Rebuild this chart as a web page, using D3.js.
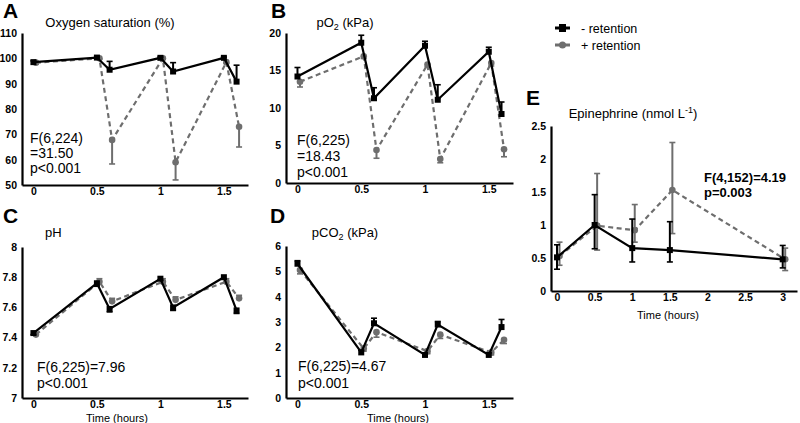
<!DOCTYPE html>
<html><head><meta charset="utf-8">
<script src="https://cdn.jsdelivr.net/npm/d3@7"></script>
<style>
body{margin:0;background:#fff;}
svg{font-family:"Liberation Sans",Arial,sans-serif;}
</style></head>
<body><svg id="chart" width="800" height="423"></svg>
<script>
// ---- data ----
const times = [0, 0.5, 0.6, 1.0, 1.1, 1.5, 1.6];
const xTicks = [0, 0.5, 1, 1.5];

const o2satNo = [98.5, 100.3, 95.5, 100.2, 94.8, 100.2, 90.8];
const o2satNoErr = [0.5, 0.3, 3.3, 0.3, 3.5, 0.3, 6.5];
const o2satYes = [98.3, 100, 67.8, 100, 59, 98.5, 73];
const o2satYesErr = [0.5, 0.3, 9.5, 0.3, 7, 0.5, 8];
const o2satTicks = [50, 60, 70, 80, 90, 100, 110];

const po2No = [14.2, 18.7, 11.3, 18.3, 11.1, 17.5, 9.2];
const po2NoErr = [1.2, 1.0, 1.4, 0.6, 2.0, 0.6, 1.6];
const po2Yes = [13.5, 16.9, 4.4, 15.8, 3.2, 16.0, 4.5];
const po2YesErr = [0.7, 0.3, 1.1, 0.3, 0.5, 0.4, 1.0];
const po2Ticks = [0, 5, 10, 15, 20];

const phNo = [7.43, 7.76, 7.59, 7.79, 7.60, 7.80, 7.58];
const phNoErr = [0.01, 0.02, 0.02, 0.01, 0.02, 0.01, 0.02];
const phYes = [7.42, 7.77, 7.64, 7.77, 7.65, 7.77, 7.66];
const phYesErr = [0.01, 0.02, 0.02, 0.02, 0.02, 0.02, 0.02];
const phTicks = [7, 7.2, 7.4, 7.6, 7.8, 8];

const pco2No = [5.3, 1.8, 2.95, 1.7, 2.9, 1.7, 2.8];
const pco2NoErr = [0.12, 0.08, 0.2, 0.08, 0.12, 0.08, 0.3];
const pco2Yes = [5.05, 1.95, 2.6, 1.85, 2.5, 1.8, 2.3];
const pco2YesErr = [0.15, 0.1, 0.2, 0.1, 0.15, 0.1, 0.15];
const pco2Ticks = [0, 1, 2, 3, 4, 5, 6];

const epiTimes = [0, 0.5, 1, 1.5, 3];
const epiXTicks = [0, 0.5, 1, 1.5, 2, 2.5, 3];
const epiNo = [0.51, 1.0, 0.65, 0.62, 0.48];
const epiNoLo = [0.33, 0.64, 0.44, 0.44, 0.35];
const epiNoHi = [0.70, 1.46, 1.09, 1.05, 0.69];
const epiYes = [0.53, 0.99, 0.92, 1.53, 0.48];
const epiYesLo = [0.39, 0.62, 0.74, 0.87, 0.31];
const epiYesHi = [0.74, 1.78, 1.31, 2.25, 0.65];
const epiTicks = [0, 0.5, 1, 1.5, 2, 2.5];

const seriesNames = ["- retention", "+ retention"];

// ---- drawing ----
const svg = d3.select("#chart");
const BLACK = "#000", GRAY = "#6e6e6e";
const fmt = d => String(+d.toFixed(2));

function panel(cfg) {
  const g = svg.append("g");
  const x = d3.scaleLinear().domain(cfg.xDomain).range(cfg.xRange);
  const y = d3.scaleLinear().domain(cfg.yDomain).range(cfg.yRange);
  const xa = g.append("g").attr("transform", `translate(0,${cfg.yRange[0]})`)
    .call(d3.axisBottom(x).tickValues(cfg.xTicks).tickSize(0).tickPadding(3).tickFormat(fmt));
  const ya = g.append("g").attr("transform", `translate(${cfg.xRange[0]},0)`)
    .call(d3.axisLeft(y).tickValues(cfg.yTicks).tickSize(0).tickPadding(5).tickFormat(fmt));
  [xa, ya].forEach(a => {
    a.select(".domain").attr("stroke", "#000").attr("stroke-width", 2.2);
    a.selectAll("text").attr("font-size", 10.5).attr("font-weight", "bold").attr("fill", "#000").attr("font-family", "Liberation Sans, Arial, sans-serif");
  });
  const dodge = 2.5;
  const gy = cfg.times.map((t, i) => ({ x: x(t) + dodge, y: y(cfg.yes[i]), lo: y(cfg.yesLo[i]), hi: y(cfg.yesHi[i]) }));
  const by = cfg.times.map((t, i) => ({ x: x(t), y: y(cfg.no[i]), lo: y(cfg.noLo[i]), hi: y(cfg.noHi[i]) }));
  const line = d3.line().x(d => d.x).y(d => d.y);
  function errs(data, color, w) {
    data.forEach(d => {
      if (Math.abs(d.lo - d.hi) < 0.5) return;
      g.append("line").attr("x1", d.x).attr("x2", d.x).attr("y1", d.lo).attr("y2", d.hi).attr("stroke", color).attr("stroke-width", w);
      [d.lo, d.hi].forEach(v => {
        if (Math.abs(v - d.y) < 0.5) return;
        g.append("line").attr("x1", d.x - 3).attr("x2", d.x + 3).attr("y1", v).attr("y2", v).attr("stroke", color).attr("stroke-width", 1.6);
      });
    });
  }
  errs(gy, GRAY, 2);
  g.append("path").attr("d", line(gy)).attr("fill", "none").attr("stroke", GRAY).attr("stroke-width", 2.2).attr("stroke-dasharray", "5,3.5");
  g.selectAll(null).data(gy).join("circle").attr("cx", d => d.x).attr("cy", d => d.y).attr("r", 3.3).attr("fill", GRAY);
  errs(by, BLACK, 2);
  g.append("path").attr("d", line(by)).attr("fill", "none").attr("stroke", BLACK).attr("stroke-width", 2.2);
  g.selectAll(null).data(by).join("rect").attr("x", d => d.x - 3).attr("y", d => d.y - 3).attr("width", 6).attr("height", 6).attr("fill", BLACK);
  g.append("text").attr("x", cfg.letter[1]).attr("y", cfg.letter[2]).text(cfg.letter[0])
    .attr("font-size", 21).attr("font-weight", "bold").attr("font-family", "Liberation Sans, Arial, sans-serif");
  const tt = g.append("text").attr("x", cfg.title.x).attr("y", cfg.title.y).attr("text-anchor", cfg.title.anchor || "middle").attr("font-size", 13);
  cfg.title.parts.forEach(p => {
    const s = tt.append("tspan").text(p[0]);
    if (p[1] === "sub") s.attr("font-size", 9).attr("dy", 3);
    if (p[1] === "sup") s.attr("font-size", 9).attr("dy", -5);
    if (p[1] === "back") s.attr("dy", p[2]);
  });
  cfg.stats.lines.forEach((l, i) => {
    g.append("text").attr("x", cfg.stats.x).attr("y", cfg.stats.y + i * cfg.stats.dy).text(l)
      .attr("font-size", cfg.stats.size || 14).attr("font-weight", cfg.stats.bold ? "bold" : "normal");
  });
  if (cfg.xlabel) {
    g.append("text").attr("x", cfg.xlabel[0]).attr("y", cfg.xlabel[1]).attr("text-anchor", "middle").attr("font-size", 11).text("Time (hours)");
  }
}

const xd = [-0.09, 1.69];
const lo = (m, e) => m.map((v, i) => v - e[i]);
const same = m => m.slice();
const hiOf = (m, e) => m.map((v, i) => v + e[i]);

panel({ times, xTicks, xDomain: xd, xRange: [22, 248], yDomain: [50, 110], yRange: [185, 33], yTicks: o2satTicks,
  no: o2satNo, noLo: same(o2satNo), noHi: hiOf(o2satNo, o2satNoErr),
  yes: o2satYes, yesLo: lo(o2satYes, o2satYesErr), yesHi: same(o2satYes),
  letter: ["A", 3, 18], title: { x: 110, y: 27, parts: [["Oxygen saturation (%)"]] },
  stats: { x: 30, y: 143, dy: 15, lines: ["F(6,224)", "=31.50", "p<0.001"] } });

panel({ times, xTicks, xDomain: xd, xRange: [286, 513], yDomain: [0, 20], yRange: [183, 33], yTicks: po2Ticks,
  no: po2No, noLo: same(po2No), noHi: hiOf(po2No, po2NoErr),
  yes: po2Yes, yesLo: lo(po2Yes, po2YesErr), yesHi: same(po2Yes),
  letter: ["B", 271, 18], title: { x: 345, y: 27, parts: [["pO"], ["2", "sub"], [" (kPa)", "back", -3]] },
  stats: { x: 297, y: 145, dy: 16, lines: ["F(6,225)", "=18.43", "p<0.001"] } });

panel({ times, xTicks, xDomain: xd, xRange: [22, 248], yDomain: [7, 8], yRange: [398, 247], yTicks: phTicks,
  no: phNo, noLo: lo(phNo, phNoErr), noHi: same(phNo),
  yes: phYes, yesLo: same(phYes), yesHi: hiOf(phYes, phYesErr),
  letter: ["C", 3, 223], title: { x: 45, y: 237, anchor: "start", parts: [["pH"]] },
  stats: { x: 37, y: 372, dy: 16, lines: ["F(6,225)=7.96", "p<0.001"] }, xlabel: [117, 421.5] });

panel({ times, xTicks, xDomain: xd, xRange: [286, 513], yDomain: [0, 6], yRange: [398, 246], yTicks: pco2Ticks,
  no: pco2No, noLo: same(pco2No), noHi: hiOf(pco2No, pco2NoErr),
  yes: pco2Yes, yesLo: lo(pco2Yes, pco2YesErr), yesHi: same(pco2Yes),
  letter: ["D", 270, 223], title: { x: 345, y: 237, parts: [["pCO"], ["2", "sub"], [" (kPa)", "back", -3]] },
  stats: { x: 298, y: 371, dy: 17, lines: ["F(6,225)=4.67", "p<0.001"] }, xlabel: [398, 421.5] });

panel({ times: epiTimes, xTicks: epiXTicks, xDomain: [-0.08, 3.19], xRange: [551, 797], yDomain: [0, 2.5], yRange: [291, 126], yTicks: epiTicks,
  no: epiNo, noLo: epiNoLo, noHi: epiNoHi,
  yes: epiYes, yesLo: epiYesLo, yesHi: epiYesHi,
  letter: ["E", 526, 105], title: { x: 633, y: 118, parts: [["Epinephrine (nmol L"], ["-1", "sup"], [")", "back", 5]] },
  stats: { x: 704, y: 182, dy: 15, bold: true, size: 13, lines: ["F(4,152)=4.19", "p=0.003"] }, xlabel: [668, 319] });

const leg = svg.append("g");
seriesNames.forEach((n, i) => {
  const yy = 28 + i * 17;
  const c = i === 0 ? BLACK : GRAY;
  leg.append("line").attr("x1", 555).attr("x2", 570).attr("y1", yy).attr("y2", yy).attr("stroke", c).attr("stroke-width", 3);
  if (i === 0) leg.append("rect").attr("x", 559).attr("y", yy - 4).attr("width", 7).attr("height", 8).attr("fill", c);
  else leg.append("circle").attr("cx", 562.5).attr("cy", yy).attr("r", 3.5).attr("fill", c);
  leg.append("text").attr("x", 581).attr("y", yy + 4.5).attr("font-size", 12.5).text(n);
});
</script></body></html>
